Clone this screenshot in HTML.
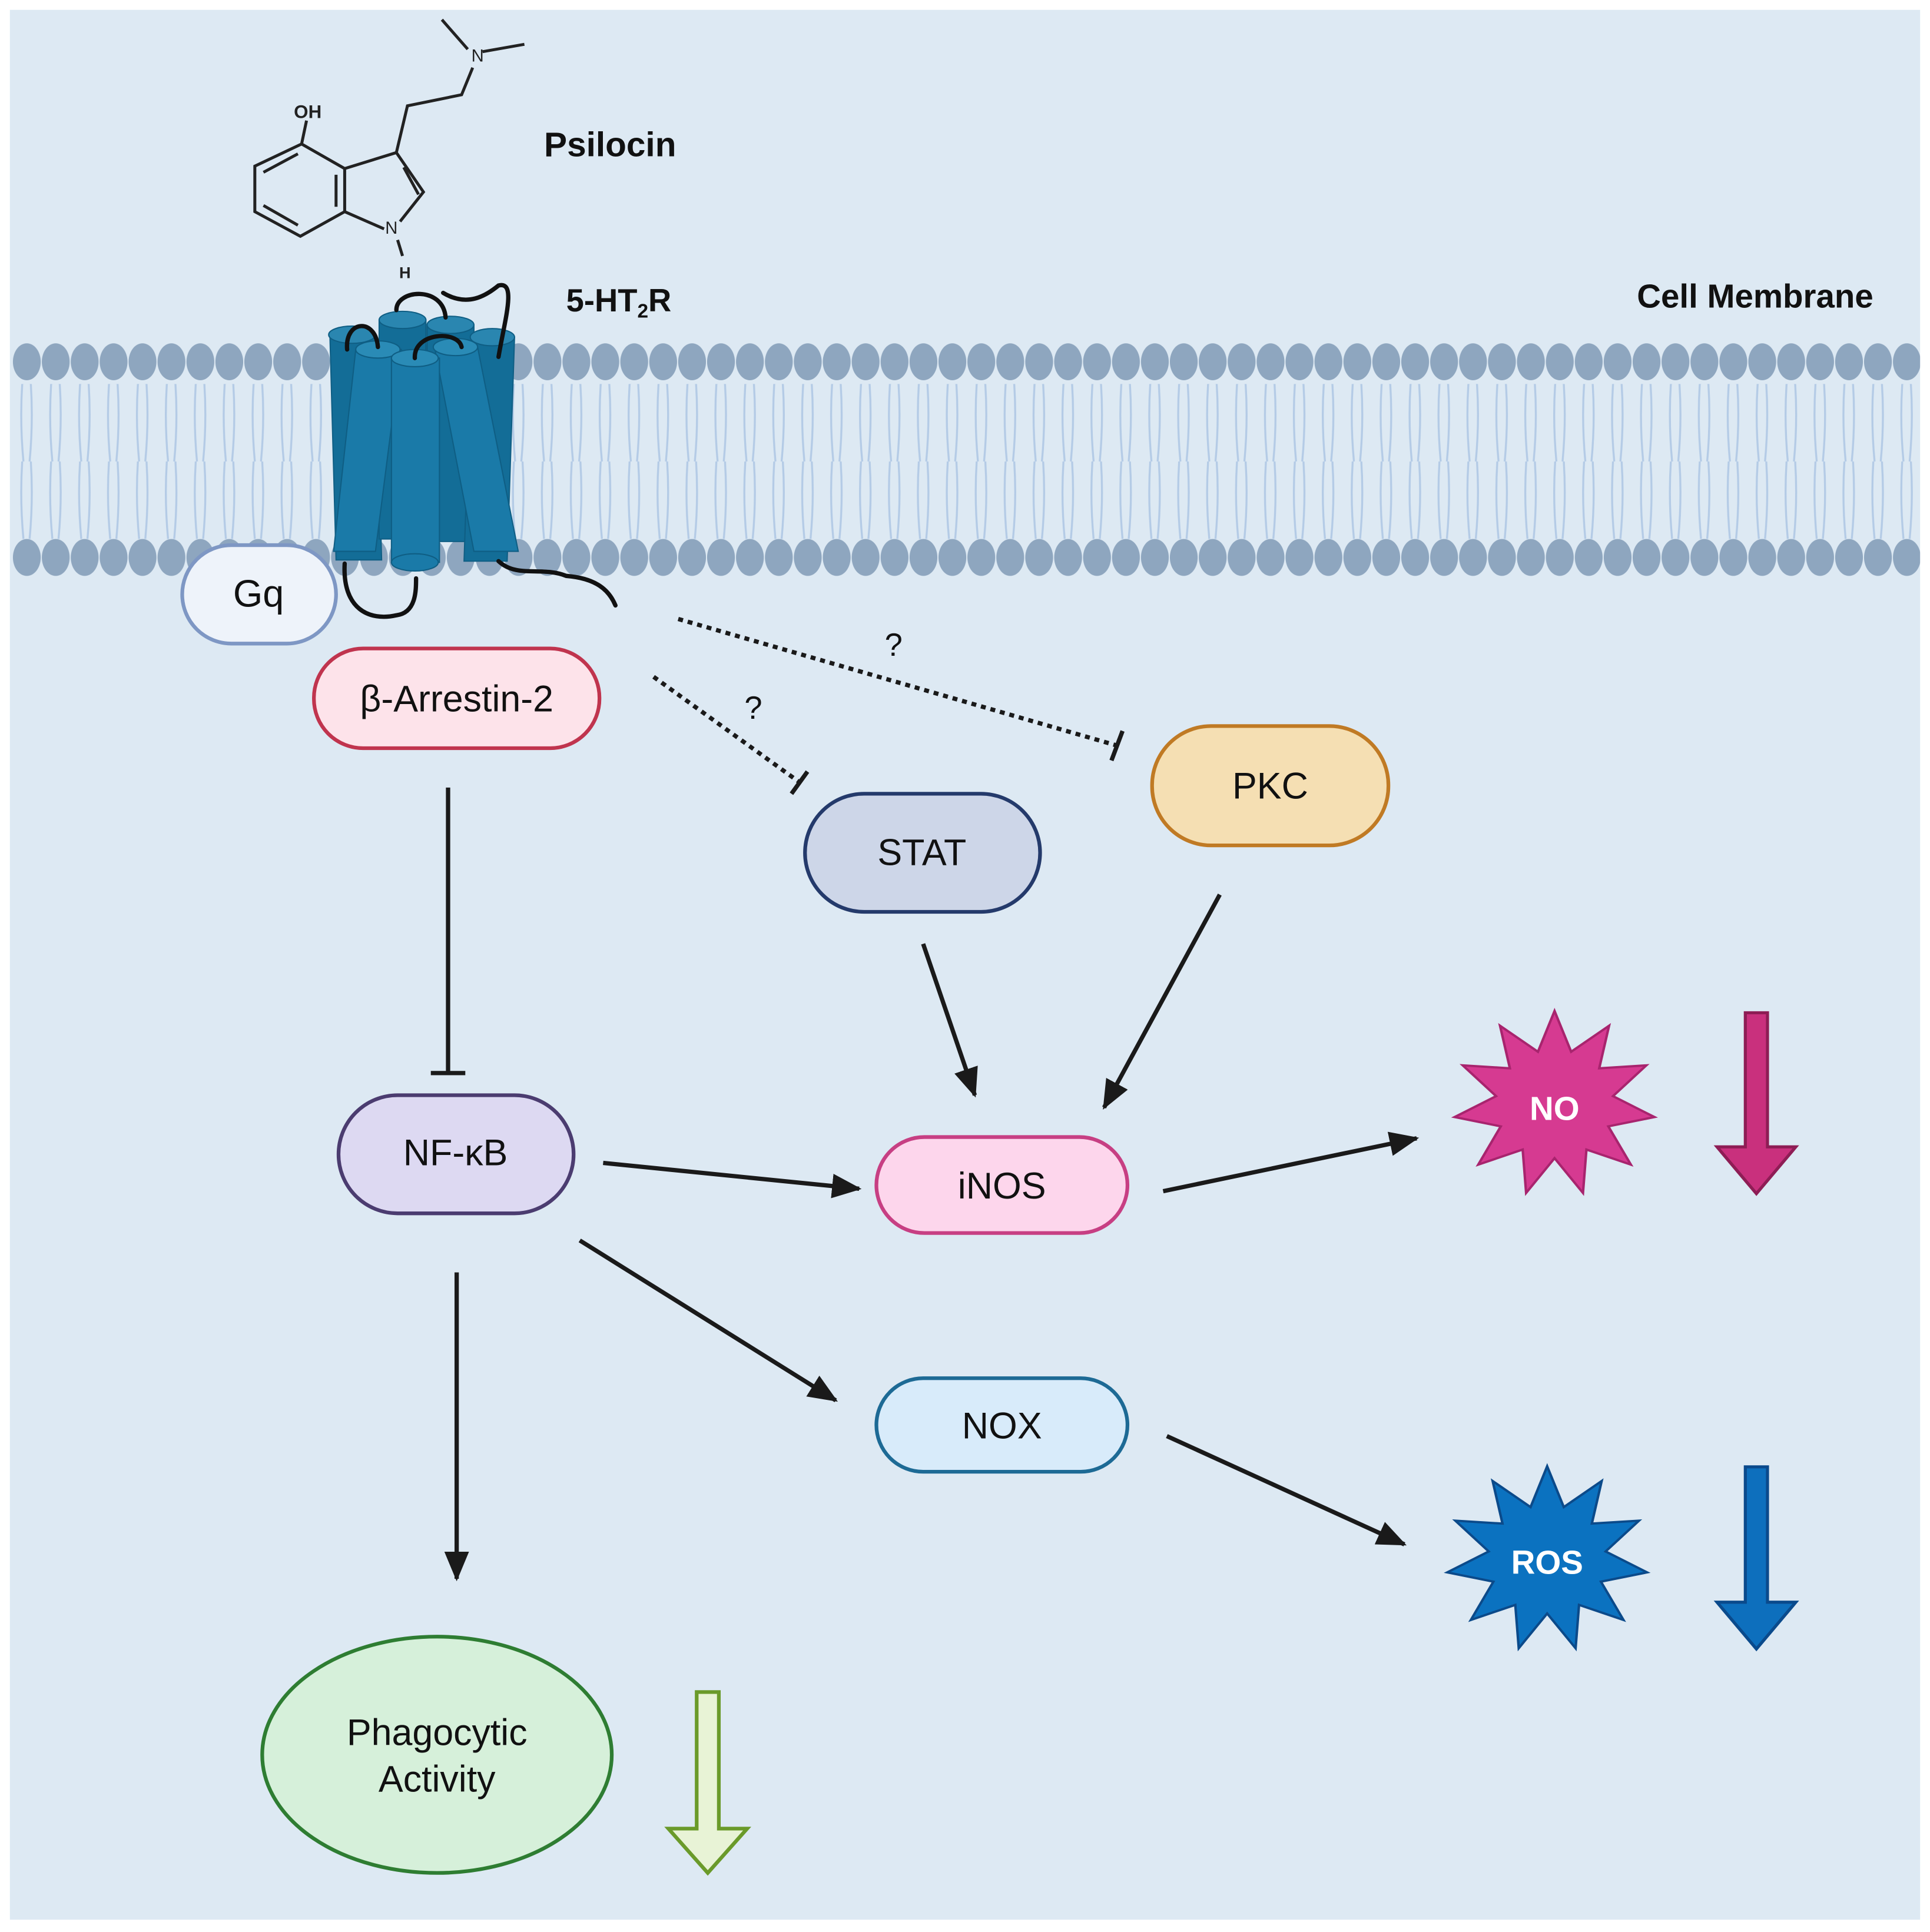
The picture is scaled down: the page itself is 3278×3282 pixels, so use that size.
<!DOCTYPE html>
<html><head><meta charset="utf-8"><style>html,body{margin:0;padding:0;background:#fff}svg{display:block}</style></head><body>
<svg width="3278" height="3282" viewBox="0 0 1568 1570" xmlns="http://www.w3.org/2000/svg" font-family="'Liberation Sans', sans-serif">
<defs>
<pattern id="heads1" x="10" y="274" width="23.5" height="40" patternUnits="userSpaceOnUse">
<ellipse cx="11.75" cy="20" rx="11.3" ry="15" fill="#8ea6bf"/></pattern>
<pattern id="heads2" x="10" y="433" width="23.5" height="40" patternUnits="userSpaceOnUse">
<ellipse cx="11.75" cy="20" rx="11.3" ry="15" fill="#8ea6bf"/></pattern>
<pattern id="tails" x="10" y="312" width="23.5" height="63" patternUnits="userSpaceOnUse">
<path d="M8 0 Q6 31 9 63 M15 0 Q17 31 14 63" stroke="#b4cbe6" stroke-width="1.6" fill="none"/></pattern>
<marker id="ar" markerWidth="24" markerHeight="24" refX="22" refY="12" orient="auto" markerUnits="userSpaceOnUse" viewBox="0 0 24 24"><path d="M0 2 L24 12 L0 22Z" fill="#1a1a1a"/></marker>
</defs>
<rect x="8" y="8" width="1552" height="1552" fill="#dde9f3"/>
<!-- membrane -->
<rect x="10" y="312" width="1550" height="126" fill="url(#tails)"/>
<rect x="10" y="274" width="1550" height="40" fill="url(#heads1)"/>
<rect x="10" y="433" width="1550" height="40" fill="url(#heads2)"/>
<!-- molecule -->
<g stroke="#222" stroke-width="2.4" fill="none">
<path d="M245 117 L207 135 L207 172 L244 192 L280 172 L280 137 Z"/>
<path d="M214 140 L242 125 M214 167 L242 183 M273 142 L273 168"/>
<path d="M280 137 L322 124 L344 156 L325 180 M312 186 L280 172"/>
<path d="M328 136 L340 158"/>
<path d="M322 124 L331 86 L375 77 L384 55 M392 42 L426 36 M380 40 L359 16"/>
<path d="M245 117 L249 98"/>
<path d="M323 195 L327 208"/>
</g>
<text x="250" y="96" font-size="15" font-weight="bold" text-anchor="middle" fill="#222">OH</text>
<text x="318" y="190" font-size="14" text-anchor="middle" fill="#222">N</text>
<text x="329" y="226" font-size="13" font-weight="bold" text-anchor="middle" fill="#222">H</text>
<text x="388" y="50" font-size="14" text-anchor="middle" fill="#222">N</text>
<text x="442" y="127" font-size="28" font-weight="bold" fill="#111">Psilocin</text>
<text x="460" y="253" font-size="26" font-weight="bold" fill="#111">5-HT<tspan font-size="16" dy="5">2</tspan><tspan dy="-5">R</tspan></text>
<text x="1522" y="250" font-size="27" font-weight="bold" fill="#111" text-anchor="end">Cell Membrane</text>
<!-- receptor -->
<g stroke="#0f5e84" stroke-width="1">
<path d="M268 272 L305 272 L310 455 L273 455Z" fill="#136d97"/>
<path d="M308 260 L346 260 L346 438 L308 438Z" fill="#136d97"/>
<path d="M347 264 L385 264 L385 440 L347 440Z" fill="#136d97"/>
<path d="M383 274 L418 274 L412 456 L377 456Z" fill="#136d97"/>
<ellipse cx="286" cy="272" rx="19" ry="7" fill="#2a86b0"/>
<ellipse cx="327" cy="260" rx="19" ry="7" fill="#2a86b0"/>
<ellipse cx="366" cy="264" rx="19" ry="7" fill="#2a86b0"/>
<ellipse cx="400" cy="274" rx="18" ry="7" fill="#2a86b0"/>
<path d="M289 284 L326 284 L305 448 L271 448Z" fill="#1a7aa8"/>
<ellipse cx="307" cy="284" rx="18" ry="7" fill="#2a8bb6"/>
<path d="M353 282 L388 282 L421 448 L385 448Z" fill="#1a7aa8"/>
<ellipse cx="370" cy="282" rx="18" ry="7" fill="#2a8bb6"/>
<path d="M318 291 L357 291 L357 457 L318 457Z" fill="#1a7aa8"/>
<ellipse cx="337" cy="291" rx="19" ry="7" fill="#2a8bb6"/>
<ellipse cx="337" cy="457" rx="19" ry="7" fill="#1a7aa8"/>
</g>
<g stroke="#111" stroke-width="3.5" fill="none" stroke-linecap="round">
<path d="M282 284 C280 260 305 258 307 282"/>
<path d="M322 252 C322 235 360 232 362 258"/>
<path d="M337 291 C336 270 372 268 375 282"/>
<path d="M360 238 C380 250 395 240 405 232 C420 228 410 260 405 290"/>
<path d="M280 458 C278 495 300 505 322 500 C338 498 338 480 338 470"/>
<path d="M405 456 C420 470 440 460 460 468 C485 470 495 480 500 492"/>
</g>
<!-- Gq -->
<rect x="148" y="443" width="125" height="80" rx="40" fill="#eef3fa" stroke="#7e97c4" stroke-width="3"/>
<text x="210" y="493" font-size="31" text-anchor="middle" fill="#111">Gq</text>
<!-- nodes -->
<rect x="255" y="527" width="232" height="81" rx="40" fill="#fde3ea" stroke="#c0344e" stroke-width="3"/>
<text x="371" y="578" font-size="30" text-anchor="middle" fill="#111">β-Arrestin-2</text>
<rect x="654" y="645" width="191" height="96" rx="48" fill="#cdd6e8" stroke="#243a6b" stroke-width="3"/>
<text x="749" y="703" font-size="30" text-anchor="middle" fill="#111">STAT</text>
<rect x="936" y="590" width="192" height="97" rx="48" fill="#f5dfb3" stroke="#c07a24" stroke-width="3"/>
<text x="1032" y="649" font-size="30" text-anchor="middle" fill="#111">PKC</text>
<rect x="275" y="890" width="191" height="96" rx="48" fill="#ddd9f2" stroke="#4b3c70" stroke-width="3"/>
<text x="370" y="947" font-size="30" text-anchor="middle" fill="#111">NF-κB</text>
<rect x="712" y="924" width="204" height="78" rx="39" fill="#fdd6ec" stroke="#c73f83" stroke-width="3"/>
<text x="814" y="974" font-size="30" text-anchor="middle" fill="#111">iNOS</text>
<rect x="712" y="1120" width="204" height="76" rx="38" fill="#d8ebfa" stroke="#1d6a95" stroke-width="3"/>
<text x="814" y="1169" font-size="30" text-anchor="middle" fill="#111">NOX</text>
<ellipse cx="355" cy="1426" rx="142" ry="96" fill="#d6f0da" stroke="#2e7d32" stroke-width="3"/>
<text x="355" y="1418" font-size="30" text-anchor="middle" fill="#111">Phagocytic</text>
<text x="355" y="1456" font-size="30" text-anchor="middle" fill="#111">Activity</text>
<!-- connectors -->
<g stroke="#1a1a1a" stroke-width="3.5" fill="none">
<path d="M364 640 L364 872 M350 872 L378 872"/>
<path d="M531 550 L650 636" stroke-dasharray="4 4"/>
<path d="M643 645 L656 627"/>
<path d="M551 503 L908 606" stroke-dasharray="4 4"/>
<path d="M903 618 L912 594"/>
<path d="M750 767 L792 890" marker-end="url(#ar)"/>
<path d="M991 727 L897 900" marker-end="url(#ar)"/>
<path d="M490 945 L698 966" marker-end="url(#ar)"/>
<path d="M471 1008 L679 1138" marker-end="url(#ar)"/>
<path d="M371 1034 L371 1283" marker-end="url(#ar)"/>
<path d="M945 968 L1151 925" marker-end="url(#ar)"/>
<path d="M948 1167 L1141 1255" marker-end="url(#ar)"/>
</g>
<text x="612" y="584" font-size="26" text-anchor="middle" fill="#111">?</text>
<text x="726" y="533" font-size="26" text-anchor="middle" fill="#111">?</text>
<!-- stars -->
<polygon transform="translate(1263,897) scale(1,0.92)" points="0,-82 13.5,-46 44.3,-69 36.3,-31.4 74.6,-34 47.5,-6.8 81.2,11.7 43.7,19.9 62,53.7 25.9,40.4 23.1,78.7 0,48 -23.1,78.7 -25.9,40.4 -62,53.7 -43.7,19.9 -81.2,11.7 -47.5,-6.8 -74.6,-34 -36.3,-31.4 -44.3,-69 -13.5,-46" fill="#d63a91" stroke="#a8246e" stroke-width="2"/>
<text x="1263" y="910" font-size="27" font-weight="bold" text-anchor="middle" fill="#fff">NO</text>
<polygon transform="translate(1257,1267) scale(1,0.92)" points="0,-82 13.5,-46 44.3,-69 36.3,-31.4 74.6,-34 47.5,-6.8 81.2,11.7 43.7,19.9 62,53.7 25.9,40.4 23.1,78.7 0,48 -23.1,78.7 -25.9,40.4 -62,53.7 -43.7,19.9 -81.2,11.7 -47.5,-6.8 -74.6,-34 -36.3,-31.4 -44.3,-69 -13.5,-46" fill="#0b72c0" stroke="#0b4a8a" stroke-width="2"/>
<text x="1257" y="1279" font-size="27" font-weight="bold" text-anchor="middle" fill="#fff">ROS</text>
<!-- big arrows -->
<path d="M1418 823 L1436 823 L1436 932 L1459 932 L1427 970 L1395 932 L1418 932Z" fill="#c9307d" stroke="#8e1d55" stroke-width="2.5"/>
<path d="M1418 1192 L1436 1192 L1436 1302 L1459 1302 L1427 1340 L1395 1302 L1418 1302Z" fill="#0d6fbd" stroke="#0a4a8c" stroke-width="2.5"/>
<path d="M566 1375 L584 1375 L584 1486 L607 1486 L575 1522 L543 1486 L566 1486Z" fill="#e8f3d6" stroke="#6a9a2a" stroke-width="3"/>
</svg>
</body></html>
